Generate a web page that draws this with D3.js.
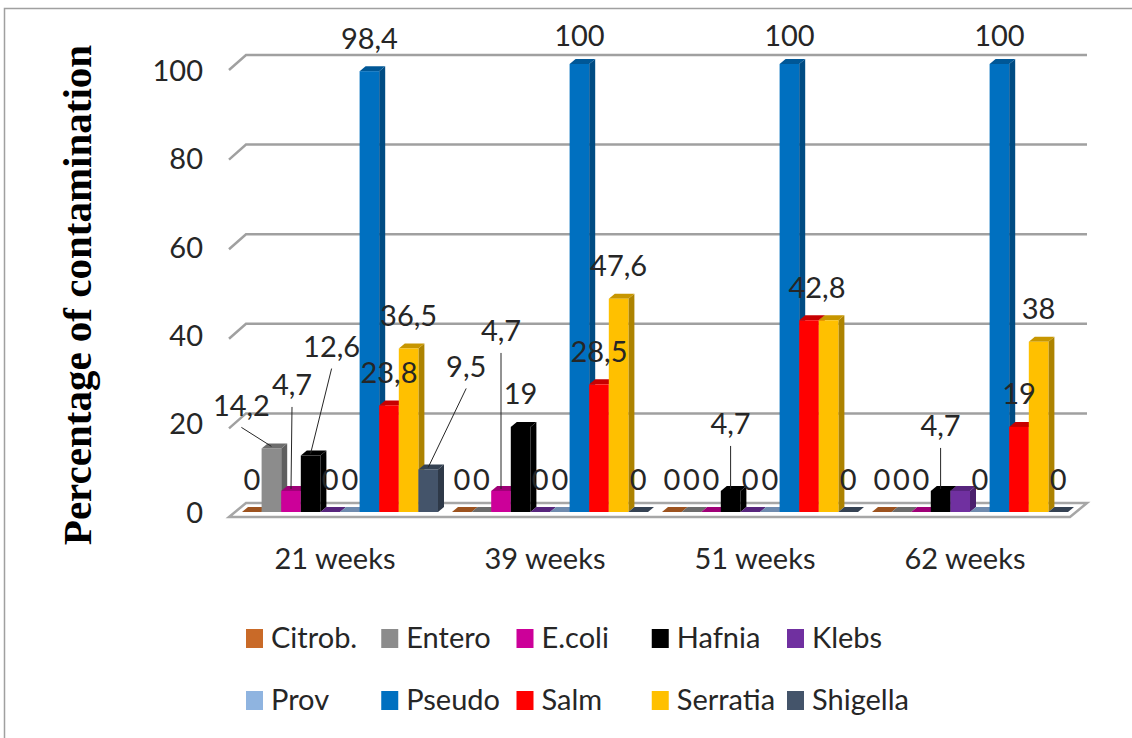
<!DOCTYPE html>
<html>
<head>
<meta charset="utf-8">
<script src="https://cdn.jsdelivr.net/npm/d3@7"></script>
<style>
    html, body { margin: 0; padding: 0; background: #fff; }
    svg { display: block; }
    text { font-family: Lato, "Open Sans", sans-serif; fill: #262626; }
</style>
</head>
<body>
<div id="chart"></div>
<script>
const weeks = ['21 weeks', '39 weeks', '51 weeks', '62 weeks'];
const seriesNames = ['Citrob.', 'Entero', 'E.coli', 'Hafnia', 'Klebs', 'Prov', 'Pseudo', 'Salm', 'Serratia', 'Shigella'];
const citrob = [0, 0, 0, 0];
const entero = [14.2, 0, 0, 0];
const ecoli = [4.7, 4.7, 0, 0];
const hafnia = [12.6, 19, 4.7, 4.7];
const klebs = [0, 0, 0, 4.7];
const prov = [0, 0, 0, 0];
const pseudo = [98.4, 100, 100, 100];
const salm = [23.8, 28.5, 42.8, 19];
const serratia = [36.5, 47.6, 42.8, 38];
const shigella = [9.5, 0, 0, 0];
const yTicks = [0, 20, 40, 60, 80, 100];

const seriesValues = [citrob, entero, ecoli, hafnia, klebs, prov, pseudo, salm, serratia, shigella];
const colors = ['#c96a28', '#8c8c8c', '#cc0099', '#000000', '#7030a0', '#8fb4e0', '#0070c0', '#ff0000', '#ffc000', '#44546a'];

// labels that were moved by hand in the original, keyed week-series
const labelMoves = {
    '0-1': {dx: -30, dy: -44, leader: true},
    '0-2': {dx: 1, dy: -107, leader: true},
    '0-3': {dx: 21, dy: -110, leader: true},
    '0-9': {dx: 38, dy: -104, leader: true},
    '1-2': {dx: 0, dy: -161, leader: true},
    '2-3': {dx: 0, dy: -68, leader: true},
    '3-3': {dx: 0, dy: -66, leader: true},
    '2-7': {dx: 8, dy: -34},
    '1-6': {dx: 0, dy: -30},
    '2-6': {dx: 0, dy: -30},
    '3-6': {dx: 0, dy: -30}
};
const hiddenLabels = ['2-8', '3-4'];

const width = 1132, height = 738;
const fontSize = '29px';
const depthX = 6, depthY = 5;          // bar depth
const backX = 11, backY = 9;           // bar front -> back wall
const frontX = 6, frontY = 6;          // bar front -> floor front edge

const svg = d3.select('#chart').append('svg').attr('width', width).attr('height', height);

svg.append('path')
    .attr('d', `M4.5,${height}V8.5H${width}`)
    .attr('fill', 'none').attr('stroke', '#a0a0a0').attr('stroke-width', 1.5);

const x0 = d3.scaleBand().domain(weeks).range([235, 1075]);
const x1 = d3.scaleBand().domain(seriesNames).range([7, 203]);
const y = d3.scaleLinear().domain([0, 100]).range([512, 64]);
// tick labels sit on the front plane, a bit lower than the bars' scale
const yLabel = d3.scaleLinear().domain([0, 100]).range([513, 71]);

// grid lines on the back wall with the stub on the side wall
const grid = svg.append('g');
yTicks.filter(d => d > 0).forEach(d => {
    grid.append('path')
        .attr('d', d3.line()([
            [x0.range()[0] - frontX, y(d) + frontY],
            [x0.range()[0] + backX, y(d) - backY],
            [x0.range()[1] + backX + 1, y(d) - backY]
        ]))
        .attr('fill', 'none').attr('stroke', '#a0a0a0').attr('stroke-width', 2.5);
});

// floor
grid.append('path')
    .attr('d', d3.line()([
        [x0.range()[0] - frontX, y(0) + frontY - 1],
        [x0.range()[1] - 5, y(0) + frontY - 1],
        [x0.range()[1] + backX + 1, y(0) - backY],
        [x0.range()[0] + backX, y(0) - backY]
    ]) + 'Z')
    .attr('fill', '#fff').attr('stroke', '#a6a6a6').attr('stroke-width', 2.5);

// y axis
const yAxis = d3.axisLeft(yLabel).tickValues(yTicks).tickSize(0).tickPadding(0);
const yG = svg.append('g').attr('transform', 'translate(203,0)').call(yAxis);
yG.select('.domain').remove();
yG.selectAll('text').style('font-size', fontSize);

// x axis
const xAxis = d3.axisBottom(x0).tickSize(0).tickPadding(0);
const xG = svg.append('g').attr('transform', 'translate(-5,548)').call(xAxis);
xG.select('.domain').remove();
xG.selectAll('text').style('font-size', fontSize);

svg.append('text')
    .attr('transform', 'translate(77,295) rotate(-90)')
    .attr('text-anchor', 'middle')
    .attr('dominant-baseline', 'central')
    .style('font-family', '"Liberation Serif", serif')
    .style('font-weight', 'bold')
    .style('font-size', '41px')
    .style('fill', '#000')
    .text('Percentage of contamination');

function shade(c, k) {
    const rgb = d3.rgb(c);
    return d3.rgb(rgb.r * k, rgb.g * k, rgb.b * k).formatHex();
}

// bars
weeks.forEach((week, w) => {
    const g = svg.append('g').attr('transform', `translate(${x0(week)},0)`);
    seriesNames.forEach((name, s) => {
        const v = seriesValues[s][w];
        const bx = x1(name), bw = x1.bandwidth(), top = y(v), base = y(0);
        g.append('path')
            .attr('d', `M${bx + bw},${top}l${depthX},${-depthY}V${base - depthY}l${-depthX},${depthY}Z`)
            .attr('fill', shade(colors[s], 0.68));
        g.append('path')
            .attr('d', `M${bx},${top}l${depthX},${-depthY}h${bw}l${-depthX},${depthY}Z`)
            .attr('fill', shade(colors[s], 0.78));
        g.append('rect')
            .attr('x', bx).attr('y', top)
            .attr('width', bw).attr('height', base - top)
            .attr('fill', colors[s]);
    });
});

// data labels and leader lines
const labels = svg.append('g');
weeks.forEach((week, w) => {
    seriesNames.forEach((name, s) => {
        const key = `${w}-${s}`;
        if (hiddenLabels.includes(key)) return;
        const v = seriesValues[s][w];
        const move = labelMoves[key] || {dx: 0, dy: -34};
        const cx = x0(week) + x1(name) + x1.bandwidth() / 2;
        const lx = cx + move.dx, ly = y(v) + move.dy;
        if (move.leader) {
            labels.append('line')
                .attr('x1', lx).attr('y1', ly + 23)
                .attr('x2', cx).attr('y2', y(v) - 2)
                .attr('stroke', '#262626').attr('stroke-width', 1);
        }
        labels.append('text')
            .attr('x', lx).attr('y', ly)
            .attr('text-anchor', 'middle')
            .attr('dominant-baseline', 'central')
            .style('font-size', fontSize)
            .text(String(v).replace('.', ','));
    });
});

// legend, two rows of five
const legendCols = d3.scalePoint().domain(d3.range(5)).range([246, 787]);
const legendRows = d3.scalePoint().domain([0, 1]).range([638, 700]);
seriesNames.forEach((name, s) => {
    const lx = legendCols(s % 5), ly = legendRows(Math.floor(s / 5));
    svg.append('rect')
        .attr('x', lx).attr('y', ly - 9)
        .attr('width', 17).attr('height', 19)
        .attr('fill', colors[s]);
    svg.append('text')
        .attr('x', lx + 25).attr('y', ly - 2)
        .attr('dominant-baseline', 'central')
        .style('font-size', fontSize)
        .text(name);
});
</script>
</body>
</html>
